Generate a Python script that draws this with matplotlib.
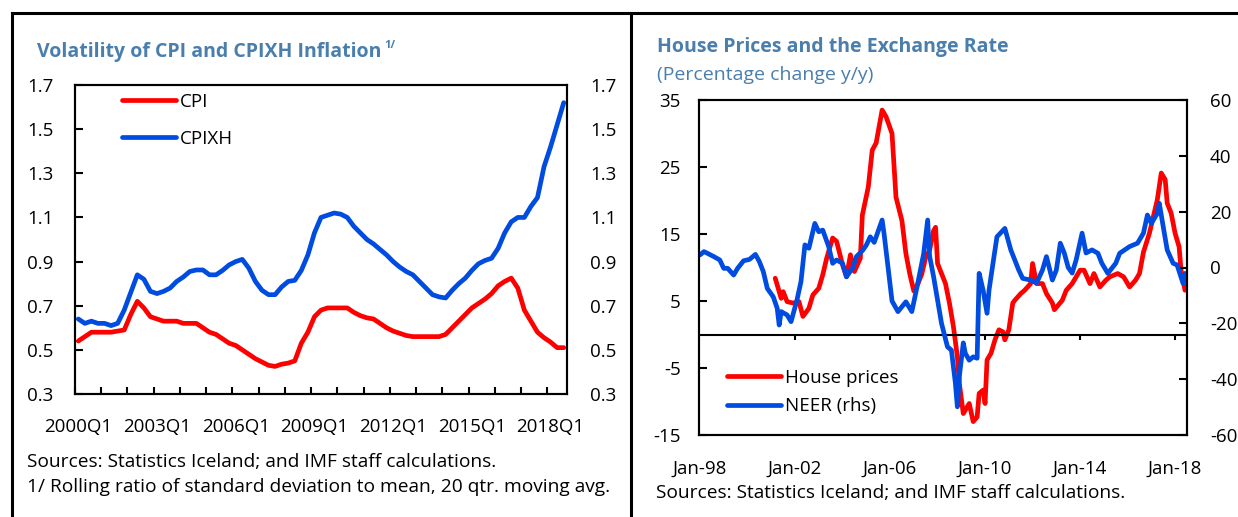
import matplotlib
matplotlib.use("Agg")
import numpy as np
import matplotlib.pyplot as plt
from matplotlib.lines import Line2D

plt.rcParams['font.family'] = ['Open Sans', 'DejaVu Sans']
plt.rcParams['axes.unicode_minus'] = False

W, H = 1238, 517
RED = '#FF0000'
BLUE = '#004CE0'
TITLE_COL = '#4A7EAC'

# ---- left panel data: quarterly 2000Q1 - 2018Q3 ----
quarters = [f"{2000 + i // 4}Q{i % 4 + 1}" for i in range(75)]
cpi = [0.54, 0.56, 0.58, 0.58, 0.58, 0.58, 0.585, 0.59, 0.66, 0.72,
       0.69, 0.65, 0.64, 0.63, 0.63, 0.63, 0.62, 0.62, 0.62, 0.60,
       0.58, 0.57, 0.55, 0.53, 0.52, 0.50, 0.48, 0.46, 0.445, 0.43,
       0.425, 0.435, 0.44, 0.45, 0.53, 0.58, 0.65, 0.68, 0.69, 0.69,
       0.69, 0.69, 0.67, 0.655, 0.645, 0.64, 0.62, 0.60, 0.585, 0.575,
       0.565, 0.56, 0.56, 0.56, 0.56, 0.56, 0.57, 0.60, 0.63, 0.66,
       0.69, 0.71, 0.73, 0.755, 0.79, 0.81, 0.825, 0.78, 0.68, 0.63,
       0.58, 0.555, 0.535, 0.51, 0.51]
cpixh = [0.64, 0.62, 0.63, 0.62, 0.62, 0.61, 0.62, 0.68, 0.76, 0.84,
         0.82, 0.765, 0.755, 0.765, 0.78, 0.81, 0.83, 0.855, 0.862, 0.862,
         0.84, 0.84, 0.86, 0.885, 0.90, 0.91, 0.87, 0.81, 0.77, 0.75,
         0.75, 0.785, 0.81, 0.815, 0.86, 0.93, 1.03, 1.10, 1.11, 1.12,
         1.115, 1.10, 1.06, 1.03, 1.00, 0.98, 0.955, 0.93, 0.90, 0.875,
         0.855, 0.84, 0.81, 0.78, 0.75, 0.74, 0.735, 0.77, 0.80, 0.825,
         0.86, 0.89, 0.905, 0.915, 0.96, 1.03, 1.08, 1.10, 1.10, 1.15,
         1.19, 1.33, 1.42, 1.52, 1.62]

# ---- right panel data: months since Jan-1998 ----
hp_month = [38, 39, 41, 42, 44, 47, 50, 52, 55, 57, 60, 62, 64, 67, 69, 72, 74, 76, 78, 81,
            82, 85, 87, 89, 92, 94, 97, 99, 102, 104, 106, 108, 110, 112, 114, 116, 118, 119,
            120, 124, 126, 128, 130, 131, 133, 135, 136, 138, 140, 141, 143, 144, 145, 147,
            149, 151, 153, 154, 156, 158, 159, 162, 164, 167, 168, 170, 173, 175, 178, 179,
            183, 185, 188, 192, 194, 197, 199, 202, 205, 207, 211, 214, 217, 220, 222, 224,
            227, 231, 233, 235, 236, 238, 240, 242, 243, 245]
hp_val = [8.4, 7.4, 5.4, 6.4, 4.9, 4.7, 4.9, 2.7, 3.9, 5.9, 6.9, 8.9, 11.4, 14.4, 13.9, 10.4, 8.6, 11.9, 9.4, 11.4,
          17.8, 22.0, 27.5, 28.6, 33.5, 32.5, 30.0, 20.5, 17.0, 12.1, 9.0, 6.5, 7.5, 9.0, 11.5, 12.6, 15.5, 16.0,
          10.6, 7.6, 4.7, 1.2, -3.3, -7.3, -11.8, -10.8, -10.3, -13.0, -12.3, -8.8, -8.3, -10.3, -3.8, -2.8,
          -0.8, 0.7, 0.4, -0.8, 0.7, 4.7, 5.1, 6.1, 6.6, 7.6, 10.6, 7.6, 7.6, 6.1, 4.7, 3.7,
          5.1, 6.6, 7.6, 9.6, 9.6, 7.6, 9.1, 7.1, 8.1, 8.6, 9.1, 8.6, 7.1, 8.1, 9.1, 12.3,
          15.1, 20.1, 24.1, 23.1, 19.6, 18.1, 15.1, 13.1, 9.6, 6.6]

neer_month = [0, 2, 4, 7, 10, 12, 14, 17, 19, 22, 25, 28, 30, 32, 34, 37, 39, 40, 41, 44,
              46, 49, 51, 53, 55, 58, 60, 62, 65, 67, 69, 72, 74, 77, 79, 82, 84, 86, 88, 90,
              92, 93, 95, 97, 100, 104, 107, 110, 113, 115, 116, 118, 122, 125, 127, 129, 130,
              131, 133, 134, 136, 138, 140, 141, 143, 145, 146, 148, 150, 154, 157, 161, 163,
              167, 170, 173, 175, 178, 180, 182, 184, 186, 188, 190, 193, 195, 198, 201, 203,
              206, 210, 212, 217, 221, 224, 226, 228, 231, 232, 234, 236, 239, 241, 244, 245]
neer_val = [4.5, 5.7, 5.0, 3.9, 2.7, -0.3, -0.3, -2.7, -0.3, 2.4, 2.9, 4.7, 2.1, -1.5, -7.5, -10.5, -14.6, -20.6, -15.8, -17.0,
            -19.4, -11.6, -5.1, 8.1, 6.9, 15.8, 12.8, 13.4, 7.5, 1.5, 2.7, 1.5, -3.3, -0.3, 3.9, 6.0, 8.0, 11.0, 9.0, 13.0,
            17.0, 12.0, 0.0, -12.0, -15.8, -12.3, -15.8, -5.7, 5.0, 17.0, 4.0, -3.3, -20.0, -28.4, -29.6, -41.4, -49.9,
            -39.1, -27.0, -30.7, -33.2, -32.0, -32.5, -2.1, -8.1, -16.4, -8.1, 1.5, 11.0, 14.0, 6.3, -0.9, -3.9,
            -4.5, -5.6, -0.9, 3.9, -4.5, -0.9, 8.7, 5.2, 0.0, -2.0, 2.7, 12.3, 5.2, 6.3, 5.1, 1.5,
            -2.1, 1.5, 5.1, 7.5, 8.7, 12.3, 18.8, 15.8, 19.4, 23.0, 14.6, 6.3, 1.5, 0.9, -5.7, -2.1]

jan_ticks = [0, 48, 96, 144, 192, 240]
jan_labels = ['Jan-98', 'Jan-02', 'Jan-06', 'Jan-10', 'Jan-14', 'Jan-18']

fig = plt.figure(figsize=(W / 100, H / 100), dpi=100)

# panel frames
frame = dict(color='black', lw=2.2, transform=fig.transFigure)
fig.add_artist(Line2D([12 / W, 1], [1 - 13 / H, 1 - 13 / H], **frame))
fig.add_artist(Line2D([12 / W, 12 / W], [0, 1 - 13 / H], **frame))
fig.add_artist(Line2D([631 / W, 631 / W], [0, 1 - 13 / H], **frame))

# ---------------- left chart ----------------
ax1 = fig.add_axes([75 / W, 1 - 394 / H, 492 / W, 309 / H])
q = np.arange(len(quarters))
l1, = ax1.plot(q, cpi, color=RED, lw=3.4, solid_capstyle='round', label='CPI')
l2, = ax1.plot(q, cpixh, color=BLUE, lw=3.4, solid_capstyle='round', label='CPIXH')
ax1.set_xlim(-0.5, 74.5)
ax1.set_ylim(0.3, 1.7)
yt = np.round(np.arange(0.3, 1.71, 0.2), 1)
ax1.set_yticks(yt)
ax1.set_yticklabels([f"{v:.1f}" for v in yt])
ax1.set_xticks(q[::12])
ax1.set_xticklabels(quarters[::12])
ax1.set_xticks(np.arange(-0.5, 75, 4), minor=True)
ax1.tick_params(axis='x', which='major', length=0, pad=17, labelsize=13.5)
ax1.tick_params(axis='x', which='minor', direction='in', length=5, width=1.5)
ax1.tick_params(axis='y', direction='in', length=6, width=1.5, pad=15.5, labelsize=13.5)
for s in ax1.spines.values():
    s.set_linewidth(1.5)

ax1r = ax1.twinx()
ax1r.set_ylim(0.3, 1.7)
ax1r.set_yticks(yt)
ax1r.set_yticklabels([f"{v:.1f}" for v in yt])
ax1r.tick_params(axis='y', length=0, pad=16.5, labelsize=13.5)
for s in ax1r.spines.values():
    s.set_linewidth(1.5)

ax1.legend(handles=[l1, l2], loc='upper left', bbox_to_anchor=(122 / W, 1 - 93 / H),
           bbox_transform=fig.transFigure, frameon=False, borderpad=0, borderaxespad=0,
           handlelength=2.9, handletextpad=0.2, labelspacing=1.0, fontsize=13.5)

t1 = fig.text(37 / W, 1 - 52 / H, 'Volatility of CPI and CPIXH Inflation', color=TITLE_COL,
              fontweight='bold', fontsize=14, va='center')
ax1.annotate('1/', xy=(1, 0.8), xycoords=t1, xytext=(2, 0), textcoords='offset points',
             color=TITLE_COL, fontweight='bold', fontsize=8, va='center')
fig.text(27 / W, 1 - 462 / H, 'Sources: Statistics Iceland; and IMF staff calculations.',
         fontsize=13.8, va='center')
fig.text(27 / W, 1 - 487 / H, '1/ Rolling ratio of standard deviation to mean, 20 qtr. moving avg.',
         fontsize=13.8, va='center')

# ---------------- right chart ----------------
ax2 = fig.add_axes([699 / W, 1 - 435 / H, 488 / W, 335 / H])
ax2r = ax2.twinx()
h1, = ax2.plot(hp_month, hp_val, color=RED, lw=3.4, solid_capstyle='round', label='House prices')
h2, = ax2r.plot(neer_month, neer_val, color=BLUE, lw=3.4, solid_capstyle='round', label='NEER (rhs)')
ax2.set_xlim(-0.5, 246)
ax2.set_ylim(-15, 35)
ax2.set_yticks(np.arange(-15, 36, 10))
ax2r.set_ylim(-60, 60)
ax2r.set_yticks(np.arange(-60, 61, 20))
ax2.set_xticks(jan_ticks)
ax2.set_xticklabels(jan_labels)
ax2.tick_params(axis='x', length=0, pad=18, labelsize=13.5)
ax2.tick_params(axis='y', direction='in', length=6, width=1.5, pad=13, labelsize=13.5)
ax2r.tick_params(axis='y', direction='in', length=6, width=1.5, pad=16.5, labelsize=13.5)
ax2.axhline(0, color='black', lw=1.5)
ax2.vlines(jan_ticks[1:], -0.8, 0, color='black', lw=1.5)
for s in list(ax2.spines.values()) + list(ax2r.spines.values()):
    s.set_linewidth(1.5)

ax2.legend(handles=[h1, h2], loc='upper left', bbox_to_anchor=(727 / W, 1 - 369 / H),
           bbox_transform=fig.transFigure, frameon=False, borderpad=0, borderaxespad=0,
           handlelength=2.9, handletextpad=0.2, labelspacing=0.55, fontsize=13.5)

fig.text(657 / W, 1 - 47 / H, 'House Prices and the Exchange Rate', color=TITLE_COL,
         fontweight='bold', fontsize=14, va='center')
fig.text(657 / W, 1 - 75 / H, '(Percentage change y/y)', color=TITLE_COL,
         fontsize=14, va='center')
fig.text(656 / W, 1 - 493 / H, 'Sources: Statistics Iceland; and IMF staff calculations.',
         fontsize=13.8, va='center')

fig.savefig('out.png', dpi=100)
